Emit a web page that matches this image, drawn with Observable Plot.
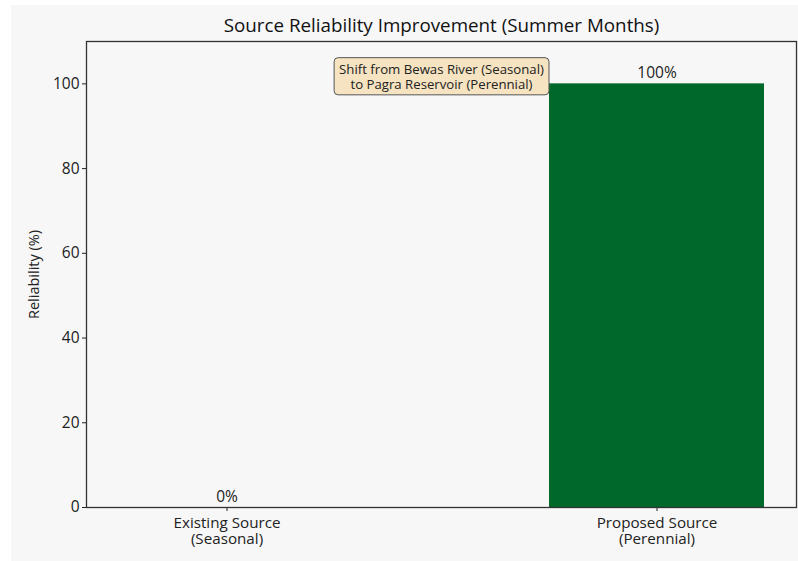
<!DOCTYPE html>
<html>
<head>
<meta charset="utf-8">
<script src="https://cdn.jsdelivr.net/npm/d3@7"></script>
<script src="https://cdn.jsdelivr.net/npm/@observablehq/plot@0.6"></script>
<style>
  html, body { margin: 0; padding: 0; background: #ffffff; }
  #panel {
    position: absolute; left: 11px; top: 5px; width: 787px; height: 556px;
    background: #f7f7f7; font-family: "Open Sans", sans-serif; overflow: hidden;
  }
  #title {
    height: 34px; line-height: 40px; text-align: center; font-size: 18.8px; color: #111;
    padding-left: 74px; box-sizing: border-box; white-space: nowrap;
  }
  #chart svg { display: block; }
</style>
</head>
<body>
<div id="panel">
  <div id="title">Source Reliability Improvement (Summer Months)</div>
  <div id="chart"></div>
</div>
<script>
// Water source categories and their summer reliability
const categories = ["Existing Source\n(Seasonal)", "Proposed Source\n(Perennial)"];
const reliability = [0, 100];
const barLabels = ["0%", "100%"];
const yTicks = [0, 20, 40, 60, 80, 100];
const yMax = 110;
const noteText = "Shift from Bewas River (Seasonal)\nto Pagra Reservoir (Perennial)";
const noteY = 102;

const rows = categories.map((c, i) => ({category: c, value: reliability[i], label: barLabels[i]}));

const font = "Open Sans, sans-serif";

const plot = Plot.plot({
  width: 787,
  height: 522,
  marginTop: 2,
  marginBottom: 54,
  marginLeft: 75,
  marginRight: 2,
  style: {background: "transparent", fontFamily: font, fontSize: "15px", color: "#222"},
  x: {
    domain: categories,
    paddingInner: 0.5,
    paddingOuter: 0.075,
    label: null
  },
  y: {
    domain: [0, yMax],
    label: null
  },
  marks: [
    Plot.barY(rows, {x: "category", y: "value", fill: "#00682b", inset: 0}),
    Plot.text(rows, {
      x: "category", y: "value", text: "label",
      lineAnchor: "bottom", dy: -6, fontSize: 15.5, fill: "#222"
    }),
    Plot.text([noteText], {
      y: noteY, text: (d) => d, fontSize: 13.2, fontWeight: 500, fill: "#222",
      lineHeight: 1.15, dy: 1
    }),
    Plot.axisX({tickSize: 4, tickPadding: 5, fontSize: 15.2, lineHeight: 1.07, label: null, fill: "#222"}),
    Plot.axisY({ticks: yTicks, tickSize: 4, tickPadding: 3, fontSize: 15.5, fill: "#222", label: "Reliability (%)", labelAnchor: "center", labelArrow: "none", labelOffset: 58}),
    Plot.frame({stroke: "#333", strokeWidth: 1.3})
  ]
});

document.getElementById("chart").appendChild(plot);

// Y axis title sizing
plot.querySelectorAll("text").forEach((t) => {
  if (t.textContent === "Reliability (%)") t.setAttribute("font-size", "14.5px");
});

// Rounded box behind the annotation text, sized from the rendered text
const noteEl = Array.from(plot.querySelectorAll("text")).find((t) => t.textContent.startsWith("Shift from"));
if (noteEl) {
  const bb = noteEl.getBBox();
  const padX = 5, padY = 2;
  const rect = document.createElementNS("http://www.w3.org/2000/svg", "rect");
  rect.setAttribute("x", bb.x - padX);
  rect.setAttribute("y", bb.y - padY);
  rect.setAttribute("width", bb.width + 2 * padX);
  rect.setAttribute("height", bb.height + 2 * padY);
  rect.setAttribute("rx", 4);
  rect.setAttribute("fill", "#f5e3c1");
  rect.setAttribute("stroke", "#555");
  rect.setAttribute("stroke-width", 1);
  const tf = noteEl.getAttribute("transform");
  if (tf) rect.setAttribute("transform", tf);
  noteEl.parentNode.insertBefore(rect, noteEl);
}
</script>
</body>
</html>
